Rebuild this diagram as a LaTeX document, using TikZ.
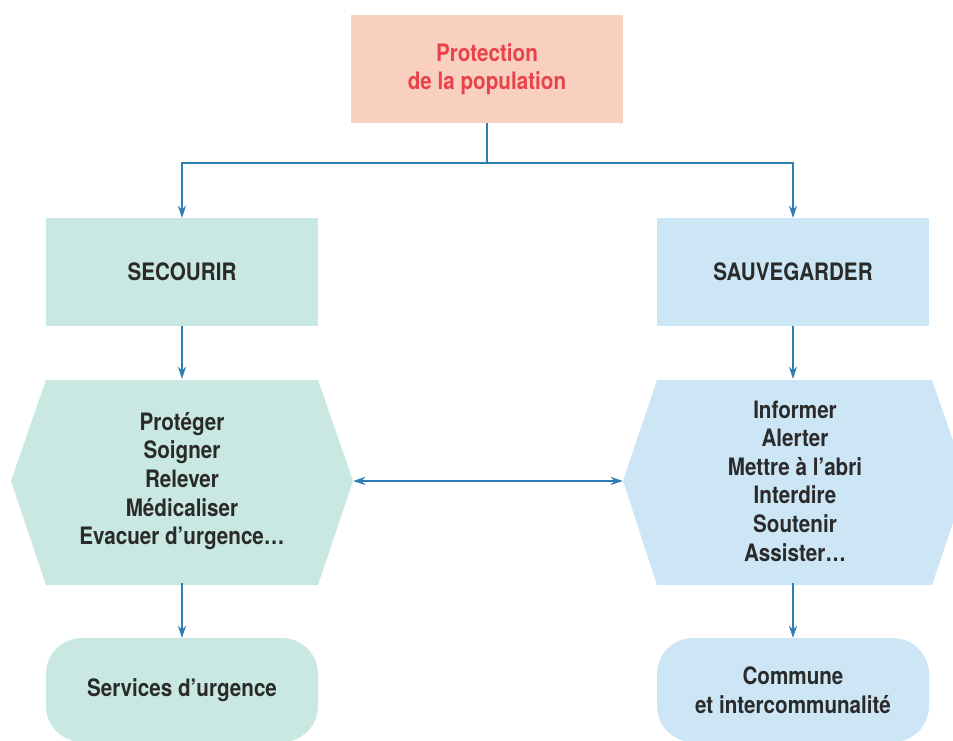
\documentclass[tikz,border=0pt]{standalone}
\usepackage{fontspec}
\setmainfont{TeX Gyre Heros}[FakeStretch=0.86]
\usetikzlibrary{arrows.meta,calc}
\definecolor{pinkfill}{HTML}{F9CFBF}
\definecolor{redtext}{HTML}{E8434A}
\definecolor{greenfill}{HTML}{C8E8E1}
\definecolor{bluefill}{HTML}{CDE6F6}
\definecolor{arrowblue}{HTML}{2E7DB5}
\definecolor{darktext}{HTML}{2A2A2A}
\begin{document}
\begin{tikzpicture}[x=1pt,y=-1pt,
  txt/.style={font=\fontsize{24}{28.6}\selectfont\bfseries, text=darktext, align=center, inner sep=0pt},
  boxnode/.style={txt, minimum width=272pt, minimum height=108pt},
  hexnode/.style={txt, minimum width=342pt, minimum height=204pt},
  conn/.style={draw=arrowblue, line width=2pt},
  arr/.style={conn, -{Stealth[length=12pt,width=8pt]}},
  darr/.style={conn, {Stealth[length=12pt,width=8pt]}-{Stealth[length=12pt,width=8pt]}}
]
\useasboundingbox (0,0) rectangle (953,740);
% top box
\node[boxnode, fill=pinkfill, text=redtext] (top) at (487,69) {Protection\\de la population};
% level 2
\node[boxnode, fill=greenfill] (sec) at (182,272) {SECOURIR};
\node[boxnode, fill=bluefill] (sau) at (793,272) {SAUVEGARDER};
% hexagons
\fill[greenfill] (46,380) -- (318,380) -- (353,481) -- (318,585) -- (46,585) -- (11,481) -- cycle;
\fill[bluefill] (657,380) -- (932,380) -- (967,481) -- (932,585) -- (657,585) -- (623,481) -- cycle;
\node[hexnode] (hexL) at (182,481) {Protéger\\Soigner\\Relever\\Médicaliser\\Evacuer d’urgence…};
\node[txt, minimum width=344pt, minimum height=204pt] (hexR) at (795,481) {Informer\\Alerter\\Mettre à l’abri\\Interdire\\Soutenir\\Assister…};
% bottom
\node[boxnode, fill=greenfill, rounded corners=36pt, minimum height=104pt] (serv) at (182,690) {Services d’urgence};
\node[boxnode, fill=bluefill, rounded corners=36pt, minimum height=104pt] (comm) at (793,690) {Commune\\et intercommunalité};
% connectors
\coordinate (split) at (487,163);
\draw[conn] (top.south) -- (split);
\draw[arr] (split) -| (sec.north);
\draw[arr] (split) -| (sau.north);
\draw[arr] (sec.south) -- (hexL.north);
\draw[arr] (sau.south) -- (sau.south |- hexR.north);
\draw[darr] (hexL.east) -- (hexR.west);
\draw[arr] (hexL.south) -- (serv.north);
\draw[arr] (sau.south |- hexR.south) -- (comm.north);
\end{tikzpicture}
\end{document}
